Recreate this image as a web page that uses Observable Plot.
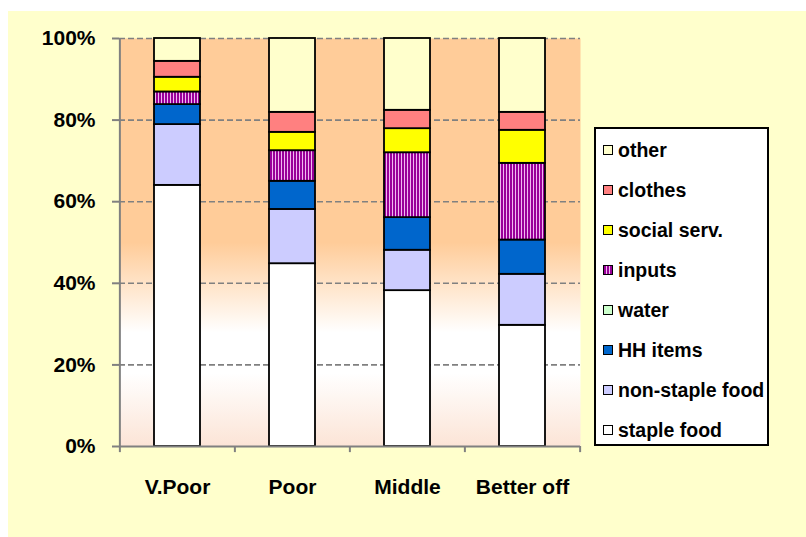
<!DOCTYPE html>
<html>
<head>
<meta charset="utf-8">
<script src="https://cdn.jsdelivr.net/npm/d3@7"></script>
<script src="https://cdn.jsdelivr.net/npm/@observablehq/plot@0.6"></script>
<style>
  html, body { margin: 0; padding: 0; background: #ffffff; }
  #wrap { position: relative; width: 806px; height: 537px; overflow: hidden; }
  #bgbox { position: absolute; left: 8px; top: 11px; width: 798px; height: 526px; background: #FFFFCC; }
  #chart { position: absolute; left: 0; top: 0; }
  #legend { position: absolute; left: 594px; top: 127px; width: 171px; height: 315px;
    border: 2px solid #000; background: #fff; font-family: "Liberation Sans", Arial, sans-serif;
    font-weight: bold; font-size: 19.5px; color: #000; }
  .item { position: absolute; left: 0; height: 24px; line-height: 24px; white-space: nowrap; }
  .sw { position: absolute; left: 7px; top: 7px; width: 8px; height: 8px; border: 1.5px solid #000; }
  .lbl { position: absolute; left: 22px; top: 0; }
</style>
</head>
<body>
<div id="wrap">
  <div id="bgbox"></div>
  <div id="chart"></div>
  <div id="legend"></div>
</div>
<script>
const groups = ["V.Poor", "Poor", "Middle", "Better off"];
const categories = ["staple food", "non-staple food", "HH items", "water", "inputs", "social serv.", "clothes", "other"];
const colors = ["#FFFFFF", "#CCCCFF", "#0066CC", "#CCFFCC", "url(#stripes)", "#FFFF00", "#FF8080", "#FFFFCC"];
// percentages per category, in group order
const stapleFood    = [64.0, 44.8, 38.2, 29.7];
const nonStapleFood = [14.9, 13.3,  9.9, 12.5];
const hhItems       = [ 4.9,  6.9,  8.0,  8.4];
const water         = [ 0.0,  0.0,  0.0,  0.0];
const inputs        = [ 3.1,  7.5, 15.9, 18.8];
const socialServ    = [ 3.6,  4.5,  5.9,  8.1];
const clothes       = [ 3.9,  4.9,  4.5,  4.4];
const other         = [ 5.6, 18.1, 17.6, 18.1];
const yTicks = [0, 20, 40, 60, 80, 100];

const series = [stapleFood, nonStapleFood, hhItems, water, inputs, socialServ, clothes, other];
const data = [];
categories.forEach((c, i) => groups.forEach((g, j) => data.push({group: g, cat: c, value: series[i][j]})));

const W = 806, H = 537, ML = 119, MR = 226, MT = 38, MB = 91;
const step = (W - ML - MR) / 4;

const plot = Plot.plot({
  width: W, height: H,
  marginLeft: ML, marginRight: MR, marginTop: MT, marginBottom: MB,
  style: {background: "transparent", fontFamily: "Liberation Sans, Arial, sans-serif", color: "#000"},
  x: {domain: groups, paddingInner: 0.6, paddingOuter: 0.3, label: null},
  y: {domain: [0, 100], label: null},
  color: {domain: categories, range: colors},
  marks: [
    Plot.frame({fill: "url(#bggrad)", stroke: "none"}),
    Plot.ruleY([20, 40, 60, 80, 100], {stroke: "#808080", strokeWidth: 1.6, strokeDasharray: "6,3"}),
    Plot.barY(data, {x: "group", y: "value", fill: "cat", stroke: "#000", strokeWidth: 1.8, order: categories}),
    Plot.ruleY([0], {stroke: "#808080", strokeWidth: 2}),
    Plot.ruleX([groups[0]], {dx: -step / 2, y1: 0, y2: 100, stroke: "#808080", strokeWidth: 2}),
    Plot.ruleX(groups, {dx: -step / 2, y1: 0, y2: -1.5, stroke: "#808080", strokeWidth: 2, clip: false}),
    Plot.ruleX([groups[groups.length - 1]], {dx: step / 2, y1: 0, y2: -1.5, stroke: "#808080", strokeWidth: 2}),
    Plot.axisY({ticks: yTicks, tickFormat: d => d + "%", tickSize: 7, tickPadding: 17, stroke: "#808080", strokeWidth: 2,
      fontSize: 21, fontWeight: "bold", fill: "#000"}),
    Plot.axisX({tickSize: 0, tickPadding: 33, fontSize: 21, fontWeight: "bold", fill: "#000"})
  ]
});

const ns = "http://www.w3.org/2000/svg";
const defs = document.createElementNS(ns, "defs");
defs.innerHTML = `
  <linearGradient id="bggrad" x1="0" y1="0" x2="0" y2="1">
    <stop offset="0" stop-color="#FFCC99"/>
    <stop offset="0.5" stop-color="#FFCC99"/>
    <stop offset="0.72" stop-color="#FFFFFF"/>
    <stop offset="0.82" stop-color="#FFFFFF"/>
    <stop offset="1" stop-color="#FCE4D6"/>
  </linearGradient>
  <pattern id="stripes" patternUnits="userSpaceOnUse" width="3" height="4">
    <rect width="3" height="4" fill="#990099"/>
    <rect x="2" width="1" height="4" fill="#F0B8F0"/>
  </pattern>`;
plot.insertBefore(defs, plot.firstChild);
document.getElementById("chart").appendChild(plot);

// legend (top to bottom: reverse of stacking order)
const legend = document.getElementById("legend");
const legendSwatch = {
  "#FFFFFF": "#FFFFFF",
  "url(#stripes)": "repeating-linear-gradient(90deg, #990099 0 2px, #F0B8F0 2px 3px)"
};
categories.slice().reverse().forEach((c, k) => {
  const i = categories.indexOf(c);
  const item = document.createElement("div");
  item.className = "item";
  item.style.top = (9 + k * 40) + "px";
  const sw = document.createElement("div");
  sw.className = "sw";
  sw.style.background = legendSwatch[colors[i]] || colors[i];
  const lb = document.createElement("div");
  lb.className = "lbl";
  lb.textContent = c;
  item.appendChild(sw);
  item.appendChild(lb);
  legend.appendChild(item);
});
</script>
</body>
</html>
